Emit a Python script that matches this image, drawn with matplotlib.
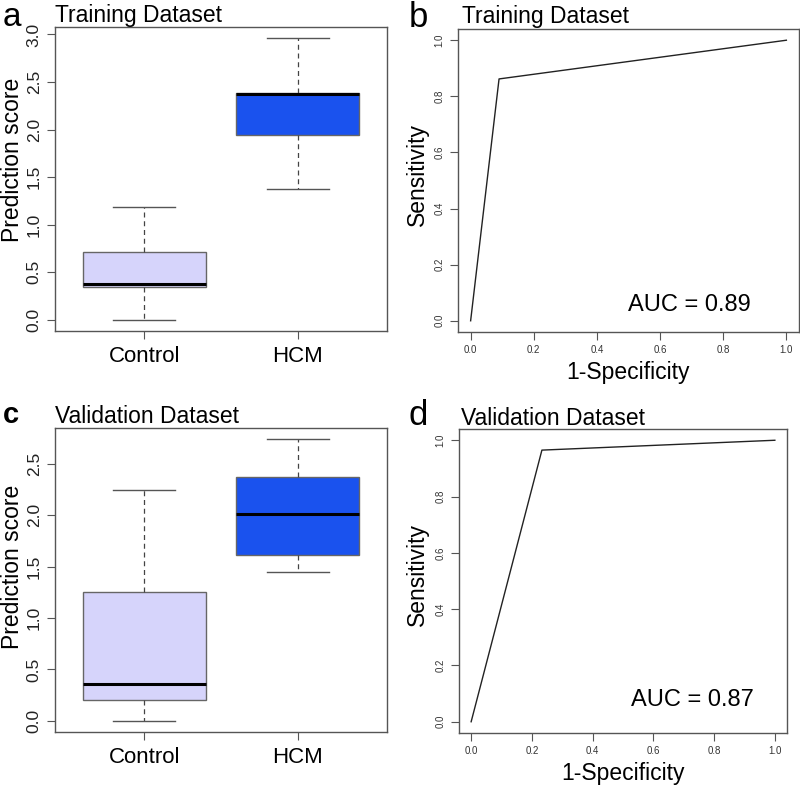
import matplotlib
matplotlib.use("Agg")
import matplotlib.pyplot as plt

plt.rcParams['font.family'] = ['Liberation Sans', 'DejaVu Sans']

groups = ["Control", "HCM"]
# box stats: whisker low, q1, median, q3, whisker high
train_control = [0.00, 0.34, 0.38, 0.71, 1.19]
train_hcm = [1.37, 1.94, 2.37, 2.38, 2.96]
valid_control = [0.00, 0.20, 0.36, 1.25, 2.25]
valid_hcm = [1.45, 1.61, 2.01, 2.37, 2.74]

roc_train_fpr = [0.0, 0.09, 1.0]
roc_train_tpr = [0.0, 0.862, 1.0]
roc_valid_fpr = [0.0, 0.233, 1.0]
roc_valid_tpr = [0.0, 0.965, 1.0]
auc_train = 0.89
auc_valid = 0.87

box_colors = ["#D6D4FB", "#1A52EE"]

W, H = 800, 785
fig = plt.figure(figsize=(8, 7.85), dpi=100)


def ax_at(l, r, t, b):
    return fig.add_axes([l / W, (H - b) / H, (r - l) / W, (b - t) / H])


spine_col = "#555555"


def style(ax):
    for s in ax.spines.values():
        s.set_color(spine_col)
        s.set_linewidth(1.0)
    ax.tick_params(direction='out', length=6, width=0.8, color=spine_col)


def boxpanel(ax, stats_list, ticks, ylab_y):
    bxp = []
    for st, lab in zip(stats_list, groups):
        bxp.append(dict(whislo=st[0], q1=st[1], med=st[2], q3=st[3], whishi=st[4], label=lab, fliers=[]))
    res = ax.bxp(bxp, positions=[1, 2], widths=0.8, patch_artist=True, showfliers=False,
                 boxprops=dict(edgecolor="#666666", linewidth=1.0),
                 medianprops=dict(color="black", linewidth=2.2, solid_capstyle='butt'),
                 whiskerprops=dict(color="#444444", linewidth=0.9, linestyle=(0, (4, 3))),
                 capprops=dict(color="#555555", linewidth=1.0), capwidths=0.4)
    for p, c in zip(res['boxes'], box_colors):
        p.set_facecolor(c)
    lo = min(s[0] for s in stats_list)
    hi = max(s[4] for s in stats_list)
    ext = 0.04 * (hi - lo)
    ax.set_ylim(lo - ext, hi + ext)
    ax.set_xlim(0.42, 2.58)
    ax.set_yticks(ticks)
    ax.set_yticklabels([f"{t:.1f}" for t in ticks], rotation=90, va='center', fontsize=12.5, color="#222222")
    ax.set_xticks([1, 2])
    ax.set_xticklabels(groups, fontsize=16)
    ax.tick_params(axis='x', pad=5)
    ax.set_ylabel("Prediction score", fontsize=16.5)
    ax.yaxis.set_label_coords(-0.094, ylab_y)
    style(ax)


def rocpanel(ax, fpr, tpr, auc, tx, ty, labx, laby):
    ax.plot(fpr, tpr, color="#222222", linewidth=1.0)
    ax.set_xlim(-0.04, 1.04)
    ax.set_ylim(-0.04, 1.04)
    ticks = [0.0, 0.2, 0.4, 0.6, 0.8, 1.0]
    ax.set_xticks(ticks)
    ax.set_xticklabels([f"{t:.1f}" for t in ticks], fontsize=7, color="#333333")
    ax.set_yticks(ticks)
    ax.set_yticklabels([f"{t:.1f}" for t in ticks], fontsize=7, rotation=90, va='center', color="#333333")
    ax.set_xlabel("1-Specificity", fontsize=16.5, labelpad=4)
    ax.set_ylabel("Sensitivity", fontsize=16.5)
    ax.yaxis.set_label_coords(labx, laby)
    ax.text(tx, ty, f"AUC = {auc:.2f}", fontsize=17, ha='left', va='baseline')
    style(ax)


axa = ax_at(55, 387, 27, 331)
boxpanel(axa, [train_control, train_hcm], [0.0, 0.5, 1.0, 1.5, 2.0, 2.5, 3.0], 0.5625)
axb = ax_at(458, 799, 29, 332)
rocpanel(axb, roc_train_fpr, roc_train_tpr, auc_train, 0.50, 0.035, -0.086, 0.521)
axc = ax_at(55, 387, 428, 732)
boxpanel(axc, [valid_control, valid_hcm], [0.0, 0.5, 1.0, 1.5, 2.0, 2.5], 0.543)
axd = ax_at(459, 787, 429, 733)
rocpanel(axd, roc_valid_fpr, roc_valid_tpr, auc_valid, 0.525, 0.055, -0.093, 0.523)


def ftext(x, y, s, **kw):
    fig.text(x / W, 1 - y / H, s, va='baseline', ha='left', **kw)


ftext(55, 22, "Training Dataset", fontsize=16.5)
ftext(462, 23, "Training Dataset", fontsize=16.5)
ftext(55, 423, "Validation Dataset", fontsize=16.5)
ftext(461, 425, "Validation Dataset", fontsize=16.5)
ftext(3, 26, "a", fontsize=24)
ftext(409, 27, "b", fontsize=25)
ftext(3, 423, "c", fontsize=21, fontweight='bold')
ftext(409, 425, "d", fontsize=25)

fig.savefig("out.png", dpi=100)
